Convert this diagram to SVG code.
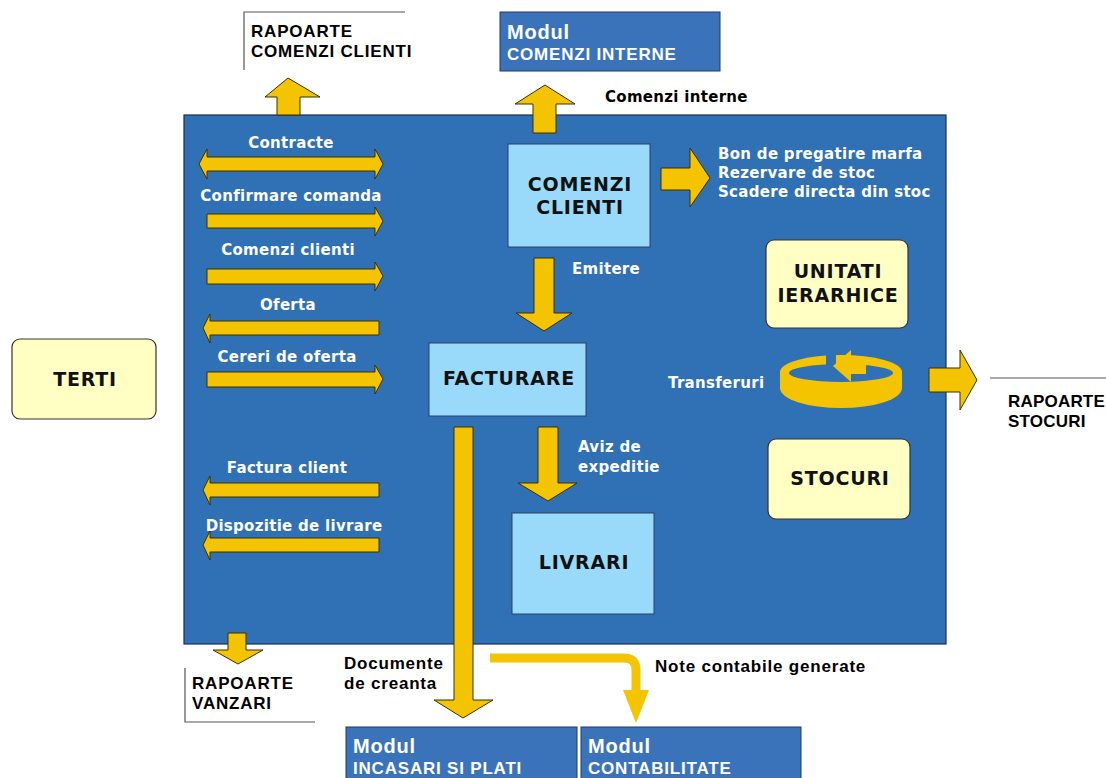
<svg xmlns="http://www.w3.org/2000/svg" width="1106" height="778" viewBox="0 0 1106 778">
<defs>
<style>
.arr{fill:#F5C400;stroke:#3a3000;stroke-width:1}
.wt{font-family:"DejaVu Sans",Verdana,sans-serif;font-weight:bold;font-size:15px;letter-spacing:0.3px;fill:#ffffff}
.bt{font-family:"DejaVu Sans",Verdana,sans-serif;font-weight:bold;font-size:15px;letter-spacing:0.3px;fill:#000000}
.hd{font-family:"Liberation Sans",Arial,sans-serif;font-weight:bold;font-size:17px;letter-spacing:0.8px;fill:#000000}
.mh{font-family:"Liberation Sans",Arial,sans-serif;font-weight:bold;font-size:17px;letter-spacing:0.8px;fill:#ffffff}
.mt{font-family:"Liberation Sans",Arial,sans-serif;font-weight:bold;font-size:20px;letter-spacing:0.8px;fill:#ffffff}
.nt{font-family:"DejaVu Sans",Verdana,sans-serif;font-weight:bold;font-size:19px;letter-spacing:0.8px;fill:#111111;text-anchor:middle}
.lb{fill:#99DAFA;stroke:#2a3f66;stroke-width:1}
.py{fill:#FFFFC4;stroke:#333333;stroke-width:1.2}
.mod{fill:#3A73BA;stroke:#1e3a66;stroke-width:1}
.ln{stroke:#555555;stroke-width:1.2;fill:none}
</style>
</defs>
<rect width="1106" height="778" fill="#ffffff"/>
<rect id="main" x="184" y="115" width="762" height="529" fill="#3070B4" stroke="#1a2f55" stroke-width="1.2"/>

<g id="rap-comenzi">
<path class="ln" d="M244,70 V12 H405"/>
<text class="hd" x="251" y="37">RAPOARTE</text>
<text class="hd" x="251" y="57">COMENZI CLIENTI</text>
</g>
<g id="mod-comenzi-interne">
<rect class="mod" x="500" y="12" width="220" height="59"/>
<text class="mt" x="507" y="39">Modul</text>
<text class="mh" x="507" y="60">COMENZI INTERNE</text>
</g>
<g id="terti">
<rect class="py" x="12" y="339" width="144" height="80" rx="8"/>
<text class="nt" x="85" y="386">TERTI</text>
</g>
<g id="comenzi-clienti">
<rect class="lb" x="508" y="144" width="142" height="103"/>
<text class="nt" x="580" y="191">COMENZI</text>
<text class="nt" x="580" y="214">CLIENTI</text>
</g>
<g id="unitati">
<rect class="py" x="766" y="240" width="142" height="88" rx="8"/>
<text class="nt" x="838" y="278">UNITATI</text>
<text class="nt" x="838" y="302">IERARHICE</text>
</g>
<g id="facturare">
<rect class="lb" x="429" y="343" width="157" height="73"/>
<text class="nt" x="509" y="385">FACTURARE</text>
</g>
<g id="stocuri">
<rect class="py" x="768" y="439" width="142" height="80" rx="8"/>
<text class="nt" x="840" y="485">STOCURI</text>
</g>
<g id="livrari">
<rect class="lb" x="512" y="513" width="142" height="101"/>
<text class="nt" x="584" y="569">LIVRARI</text>
</g>
<g id="rap-stocuri">
<path class="ln" d="M990,378 H1106"/>
<text class="hd" x="1008" y="407" style="letter-spacing:0.2px">RAPOARTE</text>
<text class="hd" x="1008" y="427" style="letter-spacing:0.2px">STOCURI</text>
</g>
<g id="rap-vanzari">
<path class="ln" d="M185,668 V722 H315"/>
<text class="hd" x="192" y="689">RAPOARTE</text>
<text class="hd" x="192" y="709">VANZARI</text>
</g>
<g id="mod-incasari">
<rect class="mod" x="346" y="727" width="231" height="56"/>
<text class="mt" x="353" y="753">Modul</text>
<text class="mh" x="353" y="774">INCASARI SI PLATI</text>
</g>
<g id="mod-contabilitate">
<rect class="mod" x="581" y="727" width="220" height="56"/>
<text class="mt" x="588" y="753">Modul</text>
<text class="mh" x="588" y="774">CONTABILITATE</text>
</g>

<g id="connectors">
<path class="arr" d="M277,115 V97 H265 L288,78 L320,97 H300 V115 Z"/>
<path class="arr" d="M533,133 V104 H515 L545,85 L575,104 H556 V133 Z"/>
<path class="arr" d="M199,164 L207,149 V157 H375 V149 L383,164 L375,179 V171 H207 V179 Z"/>
<path class="arr" d="M207,214 H375 V207 L383,221 L375,236 V228 H207 Z"/>
<path class="arr" d="M207,269 H375 V262 L383,276 L375,291 V284 H207 Z"/>
<path class="arr" d="M379,321 H210 V314 L203,328 L210,343 V335 H379 Z"/>
<path class="arr" d="M207,372 H375 V365 L383,379 L375,394 V387 H207 Z"/>
<path class="arr" d="M379,483 H210 V476 L203,490 L210,505 V497 H379 Z"/>
<path class="arr" d="M379,538 H210 V531 L203,545 L210,560 V552 H379 Z"/>
<path class="arr" d="M661,168 H690 V148 L710,178 L690,207 V190 H661 Z"/>
<path class="arr" d="M534,258 H554 V313 H572 L544,331 L516,313 H534 Z"/>
<path class="arr" d="M538,427 H558 V483 H577 L548,501 L518,483 H538 Z"/>
<path class="arr" d="M454,427 H473 V700 H493 L463,718 L434,700 H454 Z"/>
<path d="M490,658 H624 Q636,658 636,670 V692" fill="none" stroke="#F5C400" stroke-width="9"/>
<path d="M623,690 H649 L636,723 Z" fill="#F5C400"/>
<path class="arr" d="M228,633 H246 V650 H263 L238,664 L213,650 H228 Z"/>
<path class="arr" d="M929,368 H960 V350 L977,380 L960,410 V392 H929 Z"/>
<path d="M780,372 A61,17 0 0 1 902,372 L902,388 A61,20 0 0 1 780,388 Z" fill="#F5C400"/>
<ellipse cx="841" cy="373" rx="52" ry="9" fill="#3070B4"/>
<rect x="826" y="352" width="10" height="14" fill="#3070B4"/>
<path d="M833,366 L851,350 V358 H866 V374 H851 V382 Z" fill="#F5C400"/>
</g>

<g id="labels">
<text class="wt" x="291" y="148" text-anchor="middle">Contracte</text>
<text class="wt" x="291" y="201" text-anchor="middle">Confirmare comanda</text>
<text class="wt" x="288" y="255" text-anchor="middle">Comenzi clienti</text>
<text class="wt" x="288" y="310" text-anchor="middle">Oferta</text>
<text class="wt" x="287" y="362" text-anchor="middle">Cereri de oferta</text>
<text class="wt" x="287" y="473" text-anchor="middle">Factura client</text>
<text class="wt" x="294" y="531" text-anchor="middle">Dispozitie de livrare</text>
<text class="bt" x="605" y="102">Comenzi interne</text>
<text class="wt" x="718" y="159">Bon de pregatire marfa</text>
<text class="wt" x="718" y="178">Rezervare de stoc</text>
<text class="wt" x="718" y="197">Scadere directa din stoc</text>
<text class="wt" x="572" y="274">Emitere</text>
<text class="wt" x="668" y="388">Transferuri</text>
<text class="wt" x="578" y="452">Aviz de</text>
<text class="wt" x="578" y="472">expeditie</text>
<text class="hd" x="344" y="669">Documente</text>
<text class="hd" x="344" y="689">de creanta</text>
<text class="hd" x="655" y="672">Note contabile generate</text>
</g>
</svg>
